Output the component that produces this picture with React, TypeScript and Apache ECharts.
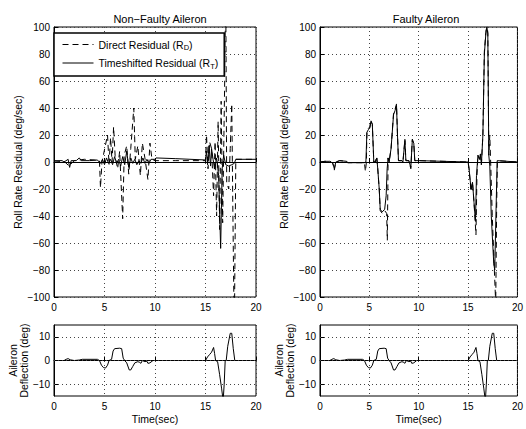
import React, { useEffect, useRef } from "react";
import * as echarts from "echarts";

const titles = ["Non\u2212Faulty Aileron", "Faulty Aileron"];
const deflTicks = [-10, 0, 10];

// Non-faulty: direct residual (t, deg/sec)
const nfDirect: [number, number][] = [
  [0, 0], [1, 0.5], [1.5, -3], [2, 1], [3, 2], [4, 1.5], [4.5, 1], [4.6, -19], [4.75, 0],
  [5.3, 20], [5.45, -2], [5.6, 18], [5.75, 0], [5.9, 26], [6.05, 5], [6.3, -5], [6.5, 8],
  [6.8, -42], [6.95, 5], [7.2, 12], [7.4, -9], [7.6, 10], [7.9, 40], [8.05, 2], [8.3, 12],
  [8.55, -10], [8.75, 14], [9.0, 3], [9.3, -13], [9.5, 14], [9.7, 2], [10, 1], [12, 1],
  [15, 1], [15.1, 20], [15.25, -5], [15.4, 15], [15.6, 10], [15.8, -25], [15.95, 15],
  [16.1, -40], [16.25, 30], [16.4, -50], [16.55, 45], [16.7, -45], [16.9, 60], [17.0, 130],
  [17.1, -15], [17.3, -20], [17.45, 10], [17.6, 43], [17.7, -30], [17.85, -130], [18.0, 2], [20, 2],
];
// Non-faulty: timeshifted residual
const nfShift: [number, number][] = [
  [0, 1], [0.8, 1], [1.0, 0], [1.4, 2], [1.55, -4], [1.7, 1], [2.2, 1], [2.5, 3], [2.7, 1],
  [3.5, 1], [4.3, 1.5], [4.6, -1], [4.8, 2], [5.0, -2], [5.2, 3], [5.4, -1], [5.6, 2],
  [5.8, -2], [6.0, 4], [6.2, -1], [6.4, 2], [6.6, -3], [6.8, 4], [7.0, -2], [7.2, 8],
  [7.4, -4], [7.6, 3], [7.8, -1], [8.0, 2], [8.2, -2], [8.4, 1], [8.6, -1], [8.8, 3],
  [9.0, -1], [9.2, 2], [9.4, -1], [9.6, 2], [10.0, 2], [10.1, 3], [12, 2.5], [15, 1.5],
  [15.1, 8], [15.2, -2], [15.35, 12], [15.5, -3], [15.6, 10], [15.75, 2], [15.9, -5],
  [16.1, 3], [16.3, -10], [16.5, -64], [16.65, -5], [16.8, 5], [17.0, -2], [17.3, -3],
  [17.6, -2], [17.85, -1], [18, 2], [20, 2],
];
// Faulty: timeshifted residual
const fShift: [number, number][] = [
  [0, 0], [0.5, 0.5], [1, 0.5], [1.3, -1], [1.45, -5], [1.6, 0], [2, 1], [2.7, 0.5],
  [2.8, -0.5], [4.5, -0.5], [4.65, 0], [4.75, 22], [4.9, 24], [5.05, 25], [5.15, 30],
  [5.3, 28], [5.45, 0], [5.6, 0], [5.75, 3], [5.85, -5], [6.0, -20], [6.1, -35], [6.3, -37],
  [6.55, -35], [6.7, -25], [6.8, -5], [6.9, 3], [7.0, 0], [7.2, 10], [7.45, 35], [7.6, 38],
  [7.75, 42], [7.85, 20], [7.95, 1], [8.3, 1], [8.4, 0], [8.6, 16], [8.7, 1], [9.0, 1],
  [9.2, -4], [9.35, 16], [9.5, 14], [9.6, 1], [10, 1], [15, 0], [15.1, -5], [15.3, -20],
  [15.45, -15], [15.6, -30], [15.75, -44], [15.85, -10], [16.0, 5], [16.15, 2], [16.25, 6],
  [16.35, -2], [16.5, 20], [16.65, 80], [16.8, 95], [16.9, 100], [17.0, 95], [17.1, 5],
  [17.2, -3], [17.35, -40], [17.6, -75], [17.7, -80], [17.85, -30], [17.95, 1], [20, 0],
];
// Faulty: direct residual
const fDirect: [number, number][] = [
  [0, 0], [0.5, 0.5], [1, 0.5], [1.3, -1], [1.45, -6], [1.6, 0], [2, 1], [2.7, 0.5],
  [2.8, -0.5], [4.5, -0.5], [4.6, -7], [4.7, 0], [4.75, 22], [4.9, 25], [5.05, 26], [5.15, 31],
  [5.3, 28], [5.45, 0], [5.6, 0], [5.75, 4], [5.85, -5], [6.0, -20], [6.1, -36], [6.3, -38],
  [6.55, -36], [6.75, -38], [6.82, -58], [6.9, 3], [7.0, 0], [7.2, 10], [7.45, 36], [7.6, 39],
  [7.75, 43], [7.85, 20], [7.95, 1], [8.3, 1], [8.4, 0], [8.6, 17], [8.7, 1], [9.0, 1],
  [9.2, -5], [9.35, 17], [9.5, 14], [9.6, 1], [10, 1], [15, 0], [15.1, -5], [15.3, -22],
  [15.45, -15], [15.6, -30], [15.8, -54], [15.9, -10], [16.0, 5], [16.15, 2], [16.25, 6],
  [16.35, -2], [16.5, 20], [16.65, 82], [16.8, 96], [16.9, 103], [17.0, 96], [17.1, 5],
  [17.2, 20], [17.3, -3], [17.45, -40], [17.65, -78], [17.8, -105], [17.9, -30], [17.97, 1], [20, 0],
];
// Aileron deflection (deg)
const nfDeflection: [number, number][] = [
  [0, 0], [1.0, 0], [1.2, 0.5], [1.4, 0.8], [1.6, 0.3], [2.0, 0], [2.5, 0.2], [2.8, 0.5],
  [4.3, 0.5], [4.5, 0], [4.7, -2], [4.9, -3], [5.1, -3.2], [5.3, -2], [5.45, 0], [5.7, 0.5],
  [5.85, 4], [6.0, 5], [6.5, 5.2], [6.7, 5], [6.85, 1], [7.0, 0], [7.2, -1], [7.45, -4],
  [7.6, -4], [7.8, -2.5], [8.0, -1], [8.3, -0.5], [8.5, -0.8], [8.6, -1.2], [8.75, 0],
  [9.0, -0.5], [9.2, -0.3], [9.3, -1.2], [9.5, -1], [9.8, 0], [10, 0], [15, 0], [15.2, 1.5],
  [15.4, 2.5], [15.6, 3.5], [15.8, 5.5], [15.9, 3], [16.0, 0], [16.2, -0.5], [16.4, -6],
  [16.6, -12], [16.75, -17], [16.85, -10], [16.95, 0], [17.05, 0], [17.2, 6], [17.45, 11.5],
  [17.6, 11.5], [17.75, 5], [17.9, 0], [20, 0],
];
const fDeflection: [number, number][] = nfDeflection;

const FONT = "Liberation Sans";
const minus = (v: number) => String(v).replace("-", "\u2212");

export default function App() {
  const ref = useRef<HTMLDivElement>(null);
  useEffect(() => {
    const chart = echarts.init(ref.current!, undefined, { renderer: "svg" });
    const grids = [
      { left: 54, top: 27, width: 202, height: 270 },
      { left: 320, top: 27, width: 202, height: 270 },
      { left: 54, top: 325, width: 202, height: 71 },
      { left: 320, top: 325, width: 202, height: 71 },
    ].map((g) => ({ ...g, show: true, borderColor: "#000", borderWidth: 1, backgroundColor: "#fff" }));

    const split = { show: true, lineStyle: { color: "#444", type: [1, 3], width: 1 } };
    const label = { color: "#000", fontSize: 10, fontFamily: FONT, formatter: minus };
    const nameStyle = { color: "#000", fontSize: 10.5, fontFamily: FONT, lineHeight: 11 };
    const xAxes = [0, 1, 2, 3].map((i) => ({
      type: "value",
      gridIndex: i,
      min: 0,
      max: 20,
      interval: 5,
      axisLine: { lineStyle: { color: "#000" } },
      axisTick: { inside: true, length: 4, lineStyle: { color: "#000" } },
      axisLabel: { ...label, margin: 5 },
      splitLine: split,
      name: i >= 2 ? "Time(sec)" : "",
      nameLocation: "middle",
      nameGap: 17,
      nameTextStyle: nameStyle,
    }));
    const yAxes = [0, 1, 2, 3].map((i) =>
      i < 2
        ? {
            type: "value",
            gridIndex: i,
            min: -100,
            max: 100,
            interval: 20,
            axisLine: { show: true, lineStyle: { color: "#000" } },
            axisTick: { show: true, inside: true, length: 4, lineStyle: { color: "#000" } },
            axisLabel: { ...label, margin: 4 },
            splitLine: split,
            name: "Roll Rate Residual (deg/sec)",
            nameLocation: "middle",
            nameGap: 30,
            nameTextStyle: nameStyle,
          }
        : {
            type: "value",
            gridIndex: i,
            min: -15,
            max: 15,
            interval: 5,
            axisLine: { show: true, lineStyle: { color: "#000" } },
            axisTick: {
              show: true,
              inside: true,
              length: 4,
              customValues: deflTicks,
              lineStyle: { color: "#000" },
            },
            axisLabel: { ...label, margin: 4, customValues: deflTicks },
            splitLine: { show: false },
            name: "Aileron\nDeflection (deg)",
            nameLocation: "middle",
            nameGap: 21,
            nameTextStyle: nameStyle,
          }
    );

    const line = (name: string, data: [number, number][], idx: number, dashed: boolean) => ({
      type: "line",
      name,
      xAxisIndex: idx,
      yAxisIndex: idx,
      data,
      symbol: "none",
      showSymbol: false,
      clip: true,
      lineStyle: { color: "#000", width: 1, type: dashed ? [6, 4] : "solid" },
      itemStyle: { color: "#000" },
    });
    const deflGrid = {
      silent: true,
      symbol: "none",
      label: { show: false },
      lineStyle: { color: "#444", type: [1, 3], width: 1 },
      data: deflTicks.map((v) => ({ yAxis: v })),
    };

    chart.setOption({
      animation: false,
      backgroundColor: "#fff",
      title: [
        { text: titles[0], left: 155, top: 8, textAlign: "center" },
        { text: titles[1], left: 421, top: 8, textAlign: "center" },
      ].map((t) => ({
        ...t,
        textStyle: { color: "#000", fontSize: 11, fontWeight: "normal", fontFamily: FONT },
      })),
      legend: {
        left: 54,
        top: 33,
        orient: "vertical",
        data: ["Direct", "Timeshifted"],
        itemWidth: 31,
        itemHeight: 11,
        itemGap: 6,
        padding: [6, 6, 6, 8],
        backgroundColor: "#fff",
        borderColor: "#000",
        borderWidth: 1.5,
        itemStyle: { opacity: 0 },
        lineStyle: { width: 1 },
        textStyle: {
          color: "#000",
          fontSize: 10.5,
          fontFamily: FONT,
          rich: {
            t: { fontSize: 10.5, fontFamily: FONT, color: "#000" },
            sub: { fontSize: 7.5, fontFamily: FONT, color: "#000", padding: [6, 0, 0, 0] },
          },
        },
        formatter: (n: string) =>
          n === "Direct" ? "{t|Direct Residual (R}{sub|D}{t|)}" : "{t|Timeshifted Residual (R}{sub|T}{t|)}",
      },
      grid: grids,
      xAxis: xAxes,
      yAxis: yAxes,
      series: [
        line("Direct", nfDirect, 0, true),
        line("Timeshifted", nfShift, 0, false),
        line("Direct", fDirect, 1, true),
        line("Timeshifted", fShift, 1, false),
        { ...line("Deflection", nfDeflection, 2, false), markLine: deflGrid },
        { ...line("Deflection2", fDeflection, 3, false), markLine: deflGrid },
      ],
    });
    return () => chart.dispose();
  }, []);
  return (
    <div
      ref={ref}
      style={{ position: "absolute", left: 0, top: 0, width: 526, height: 429 }}
    />
  );
}
